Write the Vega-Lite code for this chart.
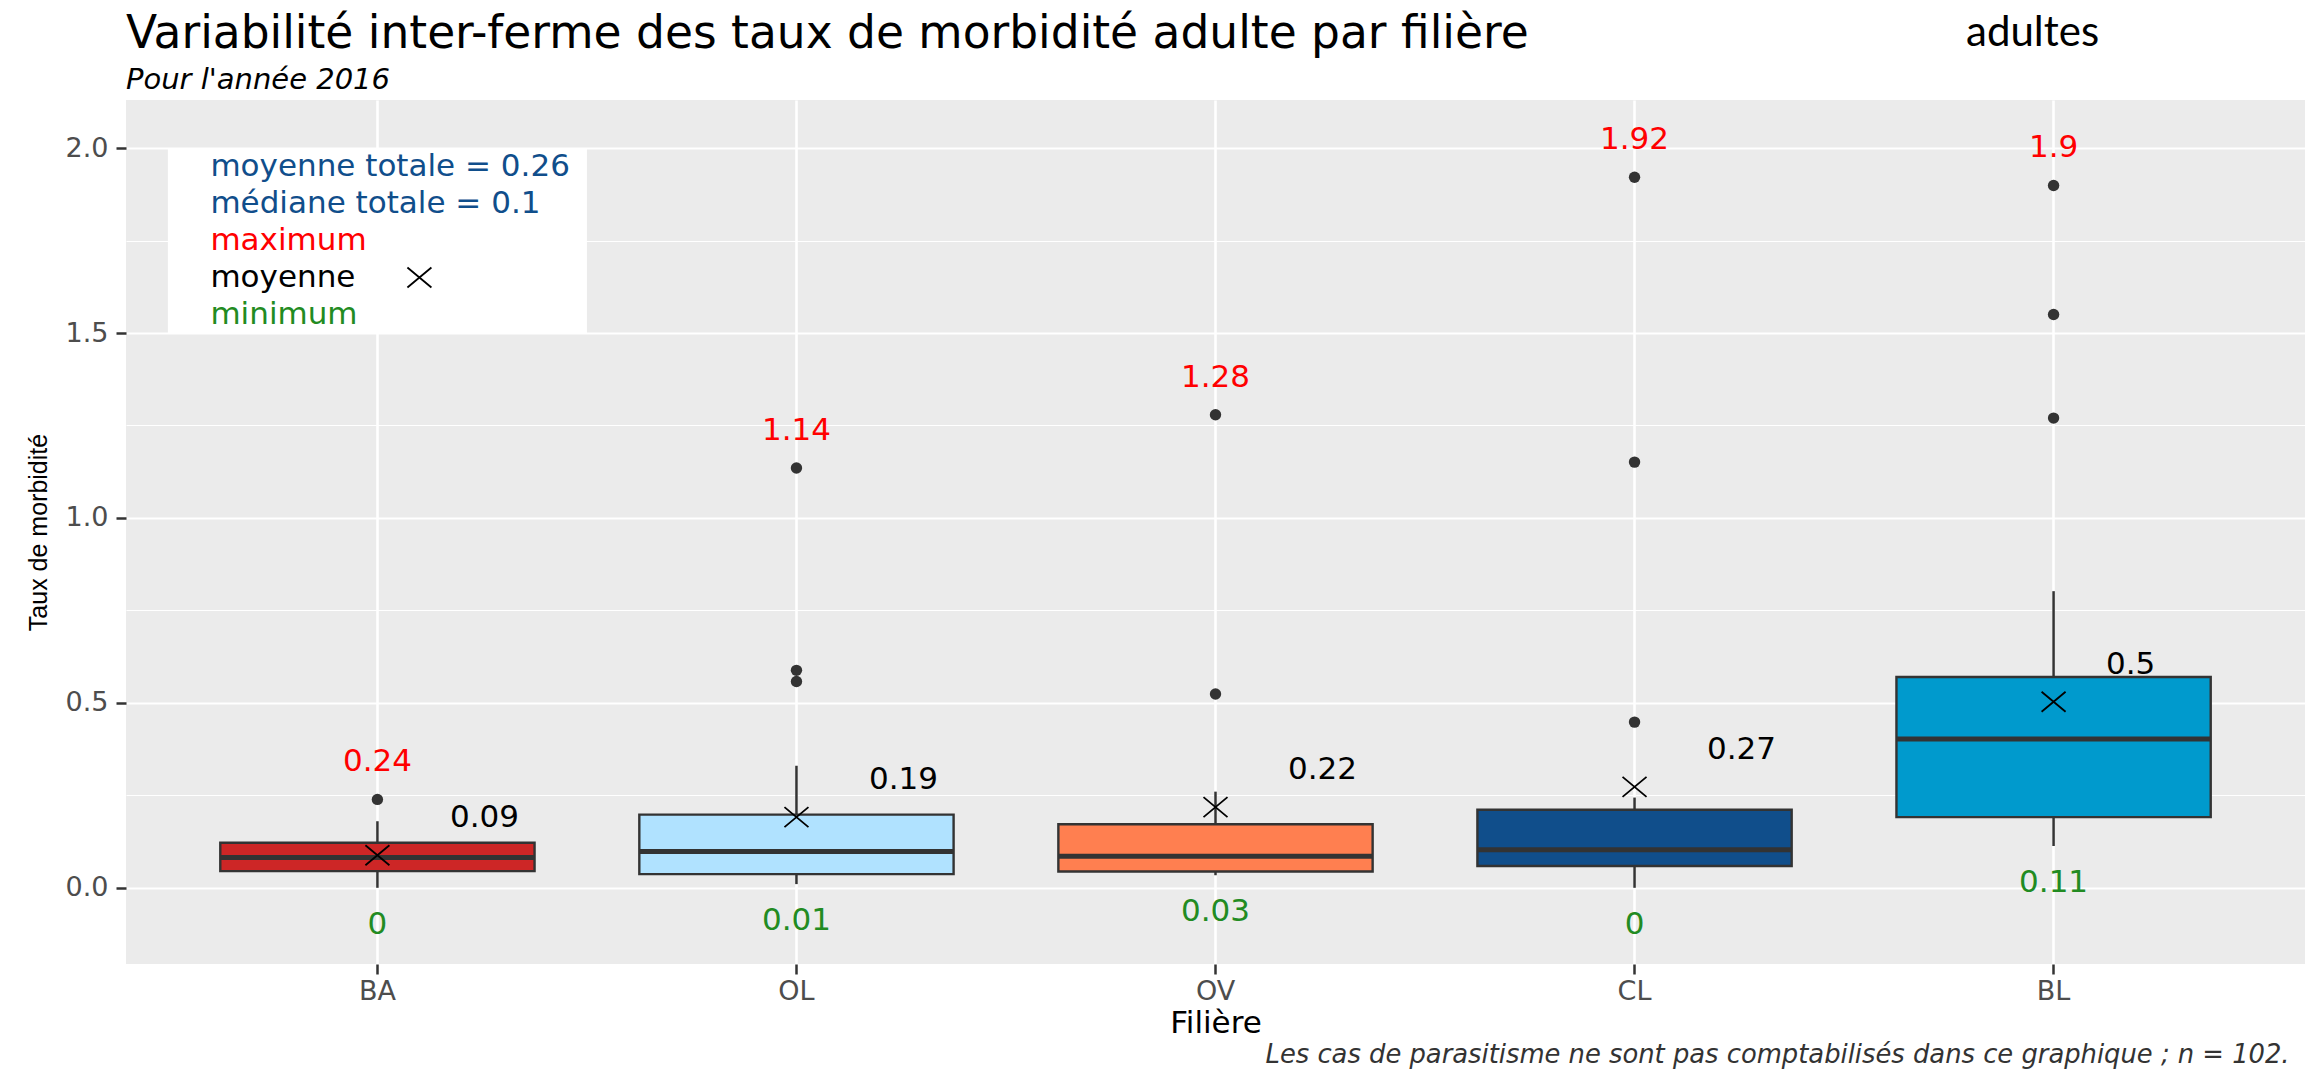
{
  "$schema": "https://vega.github.io/schema/vega-lite/v6.json",
  "width": 2179,
  "height": 864,
  "autosize": {"type": "none"},
  "padding": {"left": 126, "top": 100, "right": 18, "bottom": 110},
  "background": "white",
  "title": {
    "text": "Variabilité inter-ferme des taux de morbidité adulte par filière",
    "subtitle": "Pour l'année 2016",
    "anchor": "start",
    "frame": "group",
    "font": "DejaVu Sans",
    "fontSize": 45.5,
    "fontWeight": "normal",
    "color": "black",
    "subtitleFont": "DejaVu Sans",
    "subtitleFontStyle": "italic",
    "subtitleFontSize": 29,
    "subtitleColor": "black",
    "subtitlePadding": 9,
    "offset": -83
  },
  "datasets": {
    "stats": [
      {"filiere": "BA", "q1": 0.045, "median": 0.082, "q3": 0.122, "wlo": 0.0, "whi": 0.18, "mean": 0.088, "min": 0.0, "max": 0.24, "mean_label": "0.09", "min_label": "0", "max_label": "0.24"},
      {"filiere": "OL", "q1": 0.037, "median": 0.098, "q3": 0.198, "wlo": 0.01, "whi": 0.33, "mean": 0.191, "min": 0.01, "max": 1.135, "mean_label": "0.19", "min_label": "0.01", "max_label": "1.14"},
      {"filiere": "OV", "q1": 0.044, "median": 0.085, "q3": 0.172, "wlo": 0.034, "whi": 0.26, "mean": 0.218, "min": 0.034, "max": 1.279, "mean_label": "0.22", "min_label": "0.03", "max_label": "1.28"},
      {"filiere": "CL", "q1": 0.059, "median": 0.103, "q3": 0.211, "wlo": 0.0, "whi": 0.244, "mean": 0.273, "min": 0.0, "max": 1.921, "mean_label": "0.27", "min_label": "0", "max_label": "1.92"},
      {"filiere": "BL", "q1": 0.191, "median": 0.402, "q3": 0.57, "wlo": 0.113, "whi": 0.802, "mean": 0.503, "min": 0.113, "max": 1.899, "mean_label": "0.5", "min_label": "0.11", "max_label": "1.9"}
    ],
    "outliers": [
      {"filiere": "BA", "value": 0.239},
      {"filiere": "OL", "value": 0.558},
      {"filiere": "OL", "value": 0.588},
      {"filiere": "OL", "value": 1.135},
      {"filiere": "OV", "value": 0.524},
      {"filiere": "OV", "value": 1.279},
      {"filiere": "CL", "value": 0.448},
      {"filiere": "CL", "value": 1.151},
      {"filiere": "CL", "value": 1.921},
      {"filiere": "BL", "value": 1.27},
      {"filiere": "BL", "value": 1.55},
      {"filiere": "BL", "value": 1.899}
    ],
    "legend": [
      {"label": "moyenne totale = 0.26", "y": 1.95},
      {"label": "médiane totale = 0.1", "y": 1.85},
      {"label": "maximum", "y": 1.75},
      {"label": "moyenne", "y": 1.65},
      {"label": "minimum", "y": 1.55}
    ]
  },
  "config": {
    "view": {"fill": "#EBEBEB", "stroke": null},
    "axis": {
      "domain": false,
      "grid": true,
      "zindex": 0,
      "gridColor": "#FFFFFF",
      "gridOpacity": 1,
      "tickColor": "#333333",
      "tickSize": 10,
      "tickWidth": 2.5,
      "labelColor": "#4D4D4D",
      "labelFont": "DejaVu Sans",
      "labelFontSize": 27,
      "titleColor": "#000000",
      "titleFontWeight": "normal"
    },
    "axisX": {"grid": true, "zindex": 0, "gridWidth": 2.6, "bandPosition": 0.5, "labelPadding": 4, "labelAngle": 0, "titleFont": "DejaVu Sans", "titleFontSize": 31, "titlePadding": 4},
    "axisY": {"grid": true, "zindex": 0, "labelPadding": 8, "titleFont": "Liberation Sans", "titleFontSize": 25, "titlePadding": 14}
  },
  "layer": [
    {
      "data": {"name": "stats"},
      "transform": [{"filter": "datum.filiere === 'BA'"}],
      "mark": {"type": "rect", "fill": "white", "opacity": 1},
      "encoding": {
        "x": {"datum": "BA", "type": "nominal", "scale": {"type": "band", "domain": ["BA", "OL", "OV", "CL", "BL"], "paddingInner": 0, "paddingOuter": 0.1}, "axis": {"title": "Filière", "grid": true, "zindex": 0}},
        "y": {
          "datum": 1.5,
          "type": "quantitative",
          "scale": {"domain": [-0.206, 2.13], "nice": false, "zero": false},
          "axis": {
            "title": "Taux de morbidité",
            "zindex": 0,
            "values": [0, 0.25, 0.5, 0.75, 1, 1.25, 1.5, 1.75, 2],
            "format": ".1f",
            "labelExpr": "datum.value % 0.5 === 0 ? datum.label : ''",
            "tickOpacity": {"condition": {"test": "datum.value % 0.5 !== 0", "value": 0}, "value": 1},
            "gridWidth": {"condition": {"test": "datum.value % 0.5 !== 0", "value": 1.1}, "value": 2.2}
          }
        },
        "y2": {"datum": 2.0}
      }
    },
    {
      "data": {"name": "stats"},
      "mark": {"type": "rule", "color": "#333333", "strokeWidth": 2.5, "opacity": 1},
      "encoding": {
        "x": {"field": "filiere", "type": "nominal"},
        "y": {"field": "wlo", "type": "quantitative"},
        "y2": {"field": "whi"}
      }
    },
    {
      "data": {"name": "stats"},
      "mark": {"type": "bar", "stroke": "#333333", "strokeWidth": 2.4, "width": {"band": 0.75}, "opacity": 1},
      "encoding": {
        "x": {"field": "filiere", "type": "nominal"},
        "y": {"field": "q1", "type": "quantitative"},
        "y2": {"field": "q3"},
        "fill": {"field": "filiere", "type": "nominal", "scale": {"domain": ["BA", "OL", "OV", "CL", "BL"], "range": ["#CD2626", "#B0E2FF", "#FF7F50", "#104E8B", "#009ACD"]}, "legend": null}
      }
    },
    {
      "data": {"name": "stats"},
      "mark": {"type": "tick", "color": "#333333", "thickness": 5, "size": 314, "opacity": 1},
      "encoding": {
        "x": {"field": "filiere", "type": "nominal"},
        "y": {"field": "median", "type": "quantitative"}
      }
    },
    {
      "data": {"name": "outliers"},
      "mark": {"type": "circle", "color": "#333333", "size": 130, "opacity": 1},
      "encoding": {
        "x": {"field": "filiere", "type": "nominal"},
        "y": {"field": "value", "type": "quantitative"}
      }
    },
    {
      "data": {"name": "stats"},
      "mark": {"type": "point", "shape": "M-1.2,-1L1.2,1M-1.2,1L1.2,-1", "size": 400, "filled": false, "color": "black", "strokeWidth": 1.8, "opacity": 1},
      "encoding": {
        "x": {"field": "filiere", "type": "nominal"},
        "y": {"field": "mean", "type": "quantitative"}
      }
    },
    {
      "data": {"name": "stats"},
      "mark": {"type": "text", "font": "DejaVu Sans", "fontSize": 31, "color": "#FF0000", "dy": -37, "baseline": "middle"},
      "encoding": {
        "x": {"field": "filiere", "type": "nominal"},
        "y": {"field": "max", "type": "quantitative"},
        "text": {"field": "max_label"}
      }
    },
    {
      "data": {"name": "stats"},
      "mark": {"type": "text", "font": "DejaVu Sans", "fontSize": 31, "color": "#228B22", "dy": 37, "baseline": "middle"},
      "encoding": {
        "x": {"field": "filiere", "type": "nominal"},
        "y": {"field": "min", "type": "quantitative"},
        "text": {"field": "min_label"}
      }
    },
    {
      "data": {"name": "stats"},
      "transform": [{"filter": "datum.filiere !== 'BL'"}],
      "mark": {"type": "text", "font": "DejaVu Sans", "fontSize": 31, "color": "black", "dx": 107, "dy": -37, "baseline": "middle"},
      "encoding": {
        "x": {"field": "filiere", "type": "nominal"},
        "y": {"field": "mean", "type": "quantitative"},
        "text": {"field": "mean_label"}
      }
    },
    {
      "data": {"name": "stats"},
      "transform": [{"filter": "datum.filiere === 'BL'"}],
      "mark": {"type": "text", "font": "DejaVu Sans", "fontSize": 31, "color": "black", "dx": 77, "dy": -37, "baseline": "middle"},
      "encoding": {
        "x": {"field": "filiere", "type": "nominal"},
        "y": {"field": "mean", "type": "quantitative"},
        "text": {"field": "mean_label"}
      }
    },
    {
      "data": {"name": "legend"},
      "mark": {"type": "text", "font": "DejaVu Sans", "fontSize": 31, "align": "left", "baseline": "middle", "dx": -167},
      "encoding": {
        "x": {"datum": "BA", "type": "nominal"},
        "y": {"field": "y", "type": "quantitative"},
        "text": {"field": "label"},
        "color": {"field": "label", "type": "nominal", "scale": {"domain": ["moyenne totale = 0.26", "médiane totale = 0.1", "maximum", "moyenne", "minimum"], "range": ["#104E8B", "#104E8B", "#FF0000", "#000000", "#228B22"]}, "legend": null}
      }
    },
    {
      "data": {"name": "stats"},
      "transform": [{"filter": "datum.filiere === 'BA'"}],
      "mark": {"type": "point", "shape": "M3.0,-1L5.4,1M3.0,1L5.4,-1", "size": 400, "filled": false, "color": "black", "strokeWidth": 1.8, "opacity": 1},
      "encoding": {
        "x": {"datum": "BA", "type": "nominal"},
        "y": {"datum": 1.65, "type": "quantitative"}
      }
    },
    {
      "data": {"name": "stats"},
      "transform": [{"filter": "datum.filiere === 'BA'"}],
      "mark": {"type": "text", "font": "Lato", "fontSize": 42, "color": "black", "dx": -21, "baseline": "middle", "align": "center", "text": "adultes"},
      "encoding": {
        "x": {"datum": "BL", "type": "nominal"},
        "y": {"datum": 2.311, "type": "quantitative"}
      }
    },
    {
      "data": {"name": "stats"},
      "transform": [{"filter": "datum.filiere === 'BA'"}],
      "mark": {"type": "text", "font": "DejaVu Sans", "fontStyle": "italic", "fontSize": 25.8, "color": "#333333", "dx": 236, "baseline": "middle", "align": "right", "text": "Les cas de parasitisme ne sont pas comptabilisés dans ce graphique ; n = 102."},
      "encoding": {
        "x": {"datum": "BL", "type": "nominal"},
        "y": {"datum": -0.452, "type": "quantitative"}
      }
    }
  ]
}
